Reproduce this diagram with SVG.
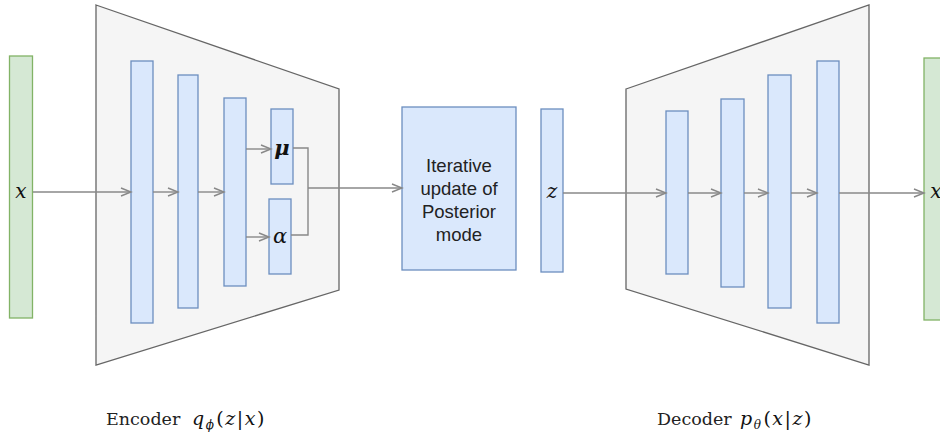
<svg xmlns="http://www.w3.org/2000/svg" width="940" height="439" viewBox="0 0 940 439">
<style>
.blue{fill:#dae8fc;stroke:#6c8ebf;stroke-width:1.3}
.green{fill:#d5e8d4;stroke:#82b366;stroke-width:1.3}
.trap{fill:#f5f5f5;stroke:#666666;stroke-width:1.3}
.edge{fill:none;stroke:#888888;stroke-width:1.4}
.math{font-family:"DejaVu Serif","Liberation Serif",serif;font-style:italic;fill:#111}
.lbl{font-family:"DejaVu Serif","Liberation Serif",serif;font-size:17.5px;fill:#222}
.box{font-family:"Liberation Sans",Arial,sans-serif;font-size:18.5px;fill:#222;text-anchor:middle}
</style>
<defs>
<marker id="arr" markerUnits="userSpaceOnUse" markerWidth="14" markerHeight="12" refX="11" refY="5" orient="auto">
<path d="M1,1 L11,5 L1,9" fill="none" stroke="#888888" stroke-width="1.4"/>
</marker>
</defs>
<rect width="940" height="439" fill="#ffffff"/>
<g id="encoder">
<polygon class="trap" points="96,5 339,89 339,290 96,365"/>
</g>
<g id="decoder">
<polygon class="trap" points="626,89 869,5 869,365 626,289"/>
</g>
<g id="x-in">
<rect class="green" x="9.5" y="56" width="23" height="262"/>
<text class="math" x="21" y="198" font-size="20" text-anchor="middle">x</text>
</g>
<g id="e1"><rect class="blue" x="131" y="61" width="22" height="262"/></g>
<g id="e2"><rect class="blue" x="178" y="75" width="20" height="233"/></g>
<g id="e3"><rect class="blue" x="224" y="98" width="22" height="188"/></g>
<g id="mu">
<rect class="blue" x="271" y="109" width="22" height="75"/>
<text class="math" x="282" y="155" font-size="21" font-weight="bold" text-anchor="middle">μ</text>
</g>
<g id="alpha">
<rect class="blue" x="269" y="199" width="22" height="75"/>
<text class="math" x="280" y="243" font-size="21" text-anchor="middle">α</text>
</g>
<g id="iter">
<rect class="blue" x="402" y="107" width="114" height="163"/>
<text class="box" x="459" y="172">Iterative</text>
<text class="box" x="459" y="195">update of</text>
<text class="box" x="459" y="218">Posterior</text>
<text class="box" x="459" y="241">mode</text>
</g>
<g id="z">
<rect class="blue" x="541" y="109" width="22" height="163"/>
<text class="math" x="552" y="198" font-size="20" text-anchor="middle">z</text>
</g>
<g id="d1"><rect class="blue" x="666" y="111" width="22" height="163"/></g>
<g id="d2"><rect class="blue" x="721" y="99" width="23" height="188"/></g>
<g id="d3"><rect class="blue" x="768" y="75" width="23" height="233"/></g>
<g id="d4"><rect class="blue" x="817" y="61" width="22" height="262"/></g>
<g id="x-out">
<rect class="green" x="924" y="58" width="23" height="262"/>
<text class="math" x="936" y="198" font-size="20" text-anchor="middle">x</text>
</g>
<g id="connectors">
<line class="edge" x1="33" y1="192" x2="131" y2="192" marker-end="url(#arr)"/>
<line class="edge" x1="153" y1="192" x2="178" y2="192" marker-end="url(#arr)"/>
<line class="edge" x1="198" y1="192" x2="224" y2="192" marker-end="url(#arr)"/>
<line class="edge" x1="246" y1="149" x2="271" y2="149" marker-end="url(#arr)"/>
<line class="edge" x1="246" y1="237" x2="269" y2="237" marker-end="url(#arr)"/>
<polyline class="edge" points="293,148 308,148 308,235 291,235"/>
<line class="edge" x1="308" y1="188" x2="402" y2="188" marker-end="url(#arr)"/>
<line class="edge" x1="563" y1="193" x2="666" y2="193" marker-end="url(#arr)"/>
<line class="edge" x1="688" y1="193" x2="721" y2="193" marker-end="url(#arr)"/>
<line class="edge" x1="744" y1="193" x2="768" y2="193" marker-end="url(#arr)"/>
<line class="edge" x1="791" y1="193" x2="817" y2="193" marker-end="url(#arr)"/>
<line class="edge" x1="839" y1="193" x2="924" y2="193" marker-end="url(#arr)"/>
</g>
<g id="enc-label">
<text class="lbl" x="106" y="425">Encoder</text>
<text class="math" x="192" y="425" font-size="19" letter-spacing="1.5">q<tspan font-size="12" dy="4">ϕ</tspan><tspan dy="-4" font-style="normal" dx="1">(</tspan>z<tspan font-style="normal">|</tspan>x<tspan font-style="normal">)</tspan></text>
</g>
<g id="dec-label">
<text class="lbl" x="657" y="425">Decoder</text>
<text class="math" x="740" y="425" font-size="19" letter-spacing="1.5">p<tspan font-size="12" dy="4">θ</tspan><tspan dy="-4" font-style="normal" dx="1">(</tspan>x<tspan font-style="normal">|</tspan>z<tspan font-style="normal">)</tspan></text>
</g>
</svg>
